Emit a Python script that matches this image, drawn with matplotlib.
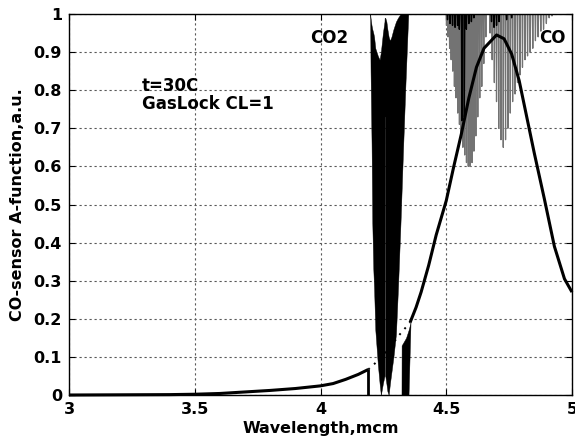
import numpy as np
import matplotlib
matplotlib.use("Agg")
import matplotlib.pyplot as plt

# ---------------- data ----------------
# CO-sensor A-function (filter curve)
filt_x = [3.0, 3.2, 3.4, 3.5, 3.6, 3.7, 3.8, 3.9, 4.0, 4.05, 4.1, 4.15, 4.19,
          4.22, 4.25, 4.28, 4.31, 4.336, 4.356,
          4.38, 4.40, 4.43, 4.46, 4.50, 4.53, 4.56, 4.59, 4.62, 4.65, 4.70,
          4.73, 4.76, 4.79, 4.82, 4.85, 4.89, 4.93, 4.97, 5.0]
filt_y = [0.0, 0.0005, 0.001, 0.002, 0.004, 0.008, 0.012, 0.017, 0.024, 0.030,
          0.041, 0.054, 0.067,
          0.085, 0.105, 0.128, 0.155, 0.175, 0.19,
          0.23, 0.27, 0.34, 0.42, 0.51, 0.60, 0.685, 0.78, 0.86, 0.91, 0.945,
          0.935, 0.895, 0.825, 0.73, 0.635, 0.515, 0.39, 0.305, 0.27]
band_left, band_right = 4.19, 4.356

# CO2 band (black) - upper / lower envelopes of the dense line structure
co2_x = [4.1975, 4.199, 4.203, 4.206, 4.210, 4.213, 4.218, 4.228, 4.235, 4.240,
         4.248, 4.2544, 4.2550, 4.2570, 4.2576, 4.262, 4.266, 4.271, 4.276,
         4.282, 4.290, 4.300, 4.308, 4.318, 4.328, 4.338, 4.349]
co2_hi = [1.0, 0.99, 0.97, 0.96, 0.95, 0.94, 0.91, 0.89, 0.88, 0.90,
          0.95, 0.98, 0.99, 0.99, 0.99, 0.98, 0.96, 0.94, 0.93,
          0.94, 0.96, 0.98, 0.99, 1.0, 1.0, 1.0, 1.0]
co2_lo = [0.99, 0.85, 0.66, 0.45, 0.33, 0.28, 0.17, 0.08, 0.03, 0.0,
          0.03, 0.05, 0.73, 0.73, 0.05, 0.03, 0.01, 0.0, 0.03,
          0.06, 0.10, 0.16, 0.28, 0.45, 0.64, 0.82, 1.0]
# lower right wedge of the A-function inside the CO2 band
wedge_x = [4.322, 4.3225, 4.340, 4.350, 4.358]
wedge_lo = [0.0, 0.0, 0.0, 0.0, 0.19]
wedge_hi = [0.0, 0.13, 0.15, 0.17, 0.19]

# CO absorption lines (gray): centres and minimum transmission
co_pos = [4.5010, 4.5071, 4.5133, 4.5195, 4.5259, 4.5324, 4.5389, 4.5456,
          4.5524, 4.5592, 4.5662, 4.5732, 4.5804, 4.5876, 4.5950, 4.6024,
          4.6100, 4.6177, 4.6254, 4.6333, 4.6413, 4.6493, 4.6575,
          4.6741, 4.6826, 4.6912, 4.6999, 4.7087, 4.7176, 4.7267, 4.7358,
          4.7451, 4.7545, 4.7640, 4.7736, 4.7833, 4.7931, 4.8031, 4.8131,
          4.8233, 4.8336, 4.8441, 4.8546, 4.8653, 4.8760, 4.8869, 4.8980,
          4.9091, 4.9204]
co_depth = [0.97, 0.94, 0.91, 0.88, 0.85, 0.81, 0.78, 0.74,
            0.71, 0.68, 0.65, 0.63, 0.61, 0.60, 0.60, 0.61,
            0.64, 0.68, 0.73, 0.78, 0.81, 0.87, 0.94,
            0.95, 0.88, 0.82, 0.77, 0.70, 0.67, 0.65, 0.67,
            0.70, 0.74, 0.77, 0.79, 0.82, 0.84, 0.86, 0.88,
            0.89, 0.90, 0.91, 0.93, 0.94, 0.955, 0.96, 0.975,
            0.99, 0.995]

# weak lines of the black spectrum near the top
blk_pos = [4.505, 4.515, 4.525, 4.535, 4.545, 4.552, 4.562, 4.572, 4.580,
           4.590, 4.600, 4.610, 4.680, 4.690, 4.700, 4.710, 4.740, 4.760]
blk_depth = [0.985, 0.975, 0.97, 0.965, 0.97, 0.96, 0.72, 0.73, 0.96,
             0.975, 0.98, 0.99, 0.98, 0.965, 0.97, 0.98, 0.985, 0.99]

x_ticks = [3, 3.5, 4, 4.5, 5]
x_ticklabels = ["3", "3.5", "4", "4.5", "5"]
y_ticks = [0, 0.1, 0.2, 0.3, 0.4, 0.5, 0.6, 0.7, 0.8, 0.9, 1]
y_ticklabels = ["0", "0.1", "0.2", "0.3", "0.4", "0.5", "0.6", "0.7", "0.8", "0.9", "1"]

# ---------------- plot ----------------
plt.rcParams['font.family'] = ['DejaVu Sans']
plt.rcParams['font.weight'] = 'bold'
FS = 11.5
FS_ANN = 12

fig = plt.figure(figsize=(5.75, 4.42), dpi=100)
ax = fig.add_axes([69/575, 1 - 395/442, (572 - 69)/575, (395 - 14)/442])

fx = np.array(filt_x)
fy = np.array(filt_y)

# CO lines (gray V-shaped dips)
w = 0.0016
lx, ly = [], []
for c, d in zip(co_pos, co_depth):
    lx += [c - w, c, c + w]
    ly += [1.0, d, 1.0]
ax.plot(lx, ly, color='0.45', lw=0.9, zorder=2)

# black weak lines
bx, by = [], []
for c, d in zip(blk_pos, blk_depth):
    bx += [c - w, c, c + w]
    by += [1.0, d, 1.0]
ax.plot(bx, by, color='black', lw=1.0, zorder=3)

# CO2 band
ax.fill_between(co2_x, co2_lo, co2_hi, color='black', lw=0.3, zorder=3)
ax.fill_between(wedge_x, wedge_lo, wedge_hi, color='black', lw=0.3, zorder=3)

# filter curve: solid outside band, dotted inside
left = fx <= band_left
right = fx >= band_right
mid = (fx >= band_left) & (fx <= band_right)
ax.plot(fx[left], fy[left], color='black', lw=2.2, zorder=4, clip_on=False,
        solid_capstyle='butt')
ax.plot(fx[right], fy[right], color='black', lw=2.2, zorder=4, clip_on=False,
        solid_capstyle='butt')
ax.plot(fx[mid], fy[mid], color='black', lw=1.4, ls=(0, (1, 3)), zorder=4)
ax.vlines(band_left, 0, fy[left][-1], color='black', lw=2.0, zorder=4)

ax.set_xlim(3, 5)
ax.set_ylim(0, 1)
ax.set_xticks(x_ticks)
ax.set_xticklabels(x_ticklabels)
ax.set_yticks(y_ticks)
ax.set_yticklabels(y_ticklabels)
ax.tick_params(direction='in', length=4, width=0.8, top=True, right=True,
               labelsize=FS, pad=5)
for lab in ax.get_xticklabels() + ax.get_yticklabels():
    lab.set_fontweight('bold')
ax.grid(True, linestyle=(0, (2, 2.5)), color='0.35', lw=0.8)
ax.set_axisbelow(True)
for s in ax.spines.values():
    s.set_linewidth(1.0)
    s.set_color('black')

ax.set_xlabel("Wavelength,mcm", fontsize=FS, fontweight='bold', labelpad=3)
ax.set_ylabel("CO-sensor A-function,a.u.", fontsize=FS, fontweight='bold', labelpad=6)

ax.text(4.11, 0.937, "CO2", fontsize=FS_ANN, fontweight='bold', ha='right', va='center')
ax.text(4.975, 0.937, "CO", fontsize=FS_ANN, fontweight='bold', ha='right', va='center')
ax.text(3.29, 0.81, "t=30C", fontsize=FS_ANN, fontweight='bold', ha='left', va='center')
ax.text(3.29, 0.765, "GasLock CL=1", fontsize=FS_ANN, fontweight='bold', ha='left', va='center')

fig.savefig("out.png", dpi=100)
